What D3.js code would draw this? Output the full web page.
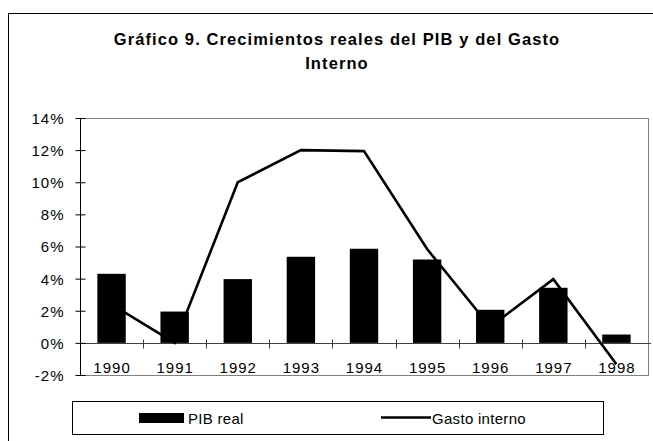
<!DOCTYPE html>
<html>
<head>
<meta charset="utf-8">
<script src="https://cdn.jsdelivr.net/npm/d3@7"></script>
<style>
  body { margin: 0; background: #fff; }
  text { font-family: "Liberation Sans", Arial, sans-serif; fill: #000; }
</style>
</head>
<body>
<div id="chart"></div>
<script>
// Crecimientos reales del PIB y del Gasto Interno

var years = ["1990", "1991", "1992", "1993", "1994", "1995", "1996", "1997", "1998"];
var pibReal = [4.3, 1.95, 3.97, 5.36, 5.86, 5.19, 2.06, 3.43, 0.52];
var gastoInterno = [2.4, 0.0, 10.0, 12.0, 11.94, 5.84, 1.0, 3.97, -1.33];
var yTicks = [-2, 0, 2, 4, 6, 8, 10, 12, 14];
var titleLines = ["Gráfico 9. Crecimientos reales del PIB y del Gasto", "Interno"];
var legendLabels = ["PIB real", "Gasto interno"];

var width = 653,
    height = 441,
    plot = { left: 80, right: 648, top: 118, bottom: 375 };

var svg = d3.select("#chart").append("svg")
  .attr("width", width)
  .attr("height", height);

// outer chart frame (runs off the right and bottom edges)
svg.append("rect")
  .attr("x", 8.5).attr("y", 13.5)
  .attr("width", width + 10).attr("height", height + 10)
  .attr("fill", "none").attr("stroke", "#000").attr("stroke-width", 1);

// title
svg.append("g").selectAll("text").data(titleLines).enter()
  .append("text")
  .attr("x", 337)
  .attr("y", function(d, i) { return 44.5 + i * 24.5; })
  .attr("text-anchor", "middle")
  .style("font-size", "16.5px")
  .style("font-weight", "bold")
  .style("letter-spacing", "1.1px")
  .text(function(d) { return d; });

var x = d3.scaleBand()
  .domain(years)
  .range([plot.left, plot.right])
  .paddingInner(0.55)
  .paddingOuter(0.275);

var step = x.step();

var y = d3.scaleLinear()
  .domain([-2, 14])
  .range([plot.bottom, plot.top]);

// plot area border (grey)
svg.append("rect")
  .attr("x", plot.left + 0.5).attr("y", y(14) + 0.5)
  .attr("width", plot.right - plot.left).attr("height", y(-2) - y(14))
  .attr("fill", "none").attr("stroke", "#808080");

// bars
svg.append("g").selectAll("rect").data(pibReal).enter()
  .append("rect")
  .attr("x", function(d, i) { return x(years[i]); })
  .attr("width", x.bandwidth())
  .attr("y", function(d) { return y(Math.max(0, d)); })
  .attr("height", function(d) { return Math.abs(y(d) - y(0)); })
  .attr("fill", "#000");

// category axis at 0%
var xAxis = svg.append("g")
  .attr("transform", "translate(0," + (Math.round(y(0)) + 0.5) + ")");
xAxis.append("line")
  .attr("x1", plot.left).attr("x2", plot.right + 3)
  .attr("stroke", "#404040");
xAxis.selectAll(".tk").data(years.slice(1)).enter()
  .append("line")
  .attr("x1", function(d) { return Math.round(x(d) - step * 0.275) + 0.5; })
  .attr("x2", function(d) { return Math.round(x(d) - step * 0.275) + 0.5; })
  .attr("y1", -4).attr("y2", 5)
  .attr("stroke", "#404040");

svg.append("g").selectAll("text").data(years).enter()
  .append("text")
  .attr("x", function(d) { return x(d) + x.bandwidth() / 2 + 0.5; })
  .attr("y", 372.5)
  .attr("text-anchor", "middle")
  .style("font-size", "15px")
  .style("letter-spacing", "1px")
  .text(function(d) { return d; });

// value axis
var yAxis = d3.axisLeft(y)
  .tickValues(yTicks)
  .tickSize(4)
  .tickPadding(12)
  .tickFormat(function(d) { return d + "%"; });

var gy = svg.append("g")
  .attr("transform", "translate(" + (plot.left + 0.5) + ",0)")
  .call(yAxis);
gy.select(".domain").remove();
gy.append("line")
  .attr("y1", plot.top).attr("y2", plot.bottom + 1)
  .attr("stroke", "#000");
gy.selectAll(".tick line")
  .attr("x1", 5).attr("x2", -5)
  .attr("stroke", "#000");
gy.selectAll(".tick text")
  .style("font-family", "'Liberation Sans', Arial, sans-serif")
  .style("font-size", "15px")
  .style("letter-spacing", "1px")
  .attr("dy", "0.36em")
  .attr("fill", "#000");

// line
var line = d3.line()
  .x(function(d, i) { return x(years[i]) + x.bandwidth() / 2; })
  .y(function(d) { return y(d); });

svg.append("path")
  .datum(gastoInterno)
  .attr("d", line)
  .attr("fill", "none")
  .attr("stroke", "#000")
  .attr("stroke-width", 2.6)
  .attr("stroke-linejoin", "miter");

// legend
var legend = svg.append("g");
legend.append("rect")
  .attr("x", 72.5).attr("y", 401.5)
  .attr("width", 531).attr("height", 33)
  .attr("fill", "#fff").attr("stroke", "#000");

legend.append("rect")
  .attr("x", 139).attr("y", 413)
  .attr("width", 45).attr("height", 10)
  .attr("fill", "#000");
legend.append("text")
  .attr("x", 188).attr("y", 423.5)
  .style("font-size", "15px")
  .style("letter-spacing", "0.3px")
  .text(legendLabels[0]);

legend.append("line")
  .attr("x1", 381).attr("x2", 431)
  .attr("y1", 417.5).attr("y2", 417.5)
  .attr("stroke", "#000").attr("stroke-width", 2.6);
legend.append("text")
  .attr("x", 432).attr("y", 423.5)
  .style("font-size", "15px")
  .style("letter-spacing", "0.3px")
  .text(legendLabels[1]);
</script>
</body>
</html>
